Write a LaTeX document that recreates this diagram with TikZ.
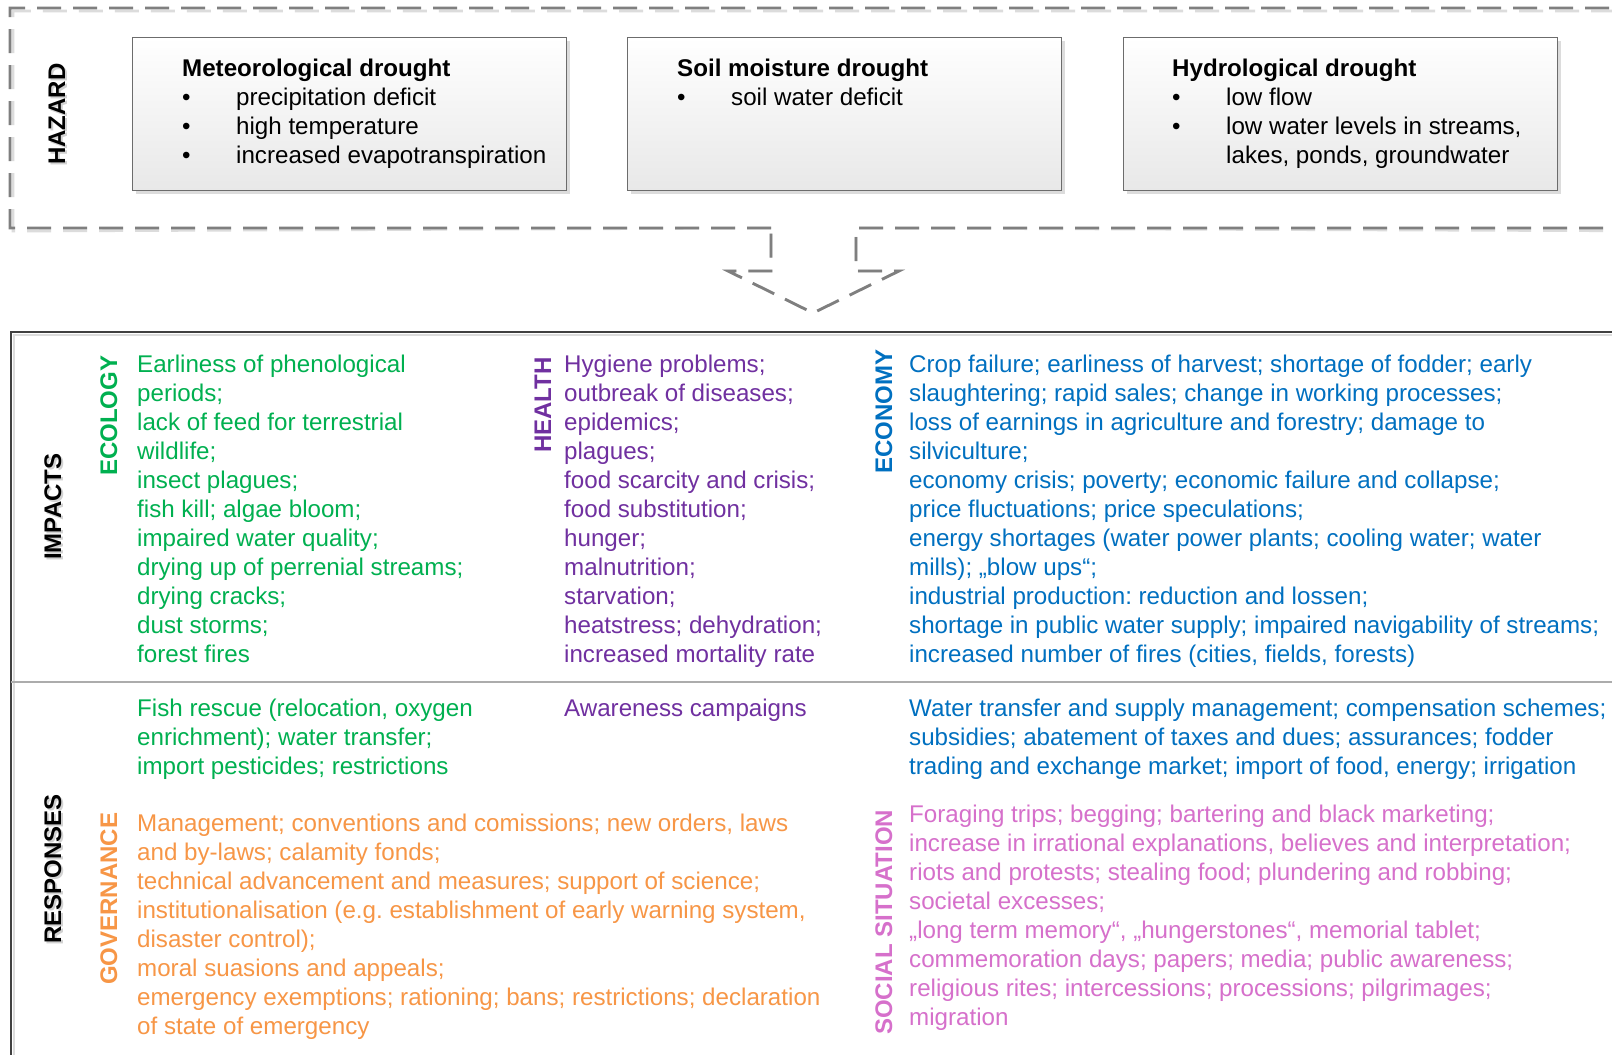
\documentclass[tikz,border=0pt]{standalone}
\usepackage{fontspec}
\newfontfamily\lsans{Liberation Sans}
\definecolor{eco}{HTML}{00B050}
\definecolor{hea}{HTML}{7030A0}
\definecolor{ecn}{HTML}{0070C0}
\definecolor{gov}{HTML}{F79646}
\definecolor{soc}{HTML}{D670CB}
\definecolor{dashgray}{HTML}{7F7F7F}
\definecolor{shadowgray}{HTML}{DCDCDC}
\definecolor{framegray}{HTML}{404040}
\newcommand\mylines[1]{\begin{tabular}[t]{@{}l@{}}#1\end{tabular}}
\newcommand\bullist[1]{\begin{tabular}[t]{@{}p{54pt}@{}l@{}}#1\end{tabular}}
\begin{document}
\frenchspacing
\begin{tikzpicture}[x=1pt,y=-1pt,
  txt/.style={anchor=base west, inner sep=0pt, font=\lsans\fontsize{24.15}{29}\selectfont},
  vlab/.style={rotate=90, anchor=base west, inner sep=0pt, font=\lsans\bfseries\fontsize{24}{29}\selectfont},
  blab/.style={vlab},
  hbox/.style={draw=gray!85!black, line width=1.2pt, top color=white, bottom color=gray!18,
    minimum width=434pt, minimum height=153pt, anchor=north west, inner sep=0pt},
  hshadow/.style={fill=shadowgray},
  dashline/.style={draw=dashgray, line width=2.8pt, dash pattern=on 24pt off 12pt},
  dashshadow/.style={draw=shadowgray, line width=2.8pt, dash pattern=on 24pt off 12pt}]
\useasboundingbox (0,0) rectangle (1612,1055);
\clip (0,0) rectangle (1612,1055);
\fill[white] (0,0) rectangle (1612,1055);

% ---------- hazard outline with arrow ----------
\coordinate (a1) at (771,228);
\coordinate (a2) at (771,271);
\coordinate (a3) at (728,271);
\coordinate (tip) at (813,313);
\coordinate (a5) at (899,271);
\coordinate (a6) at (856,271);
\coordinate (a7) at (856,228);
\draw[dashshadow, shift={(3,3)}] (a1) -- (10,228) -- (10,8) -- (1700,8) -- (1700,228) -- (a7) -- (a6) -- (a5) -- (tip) -- (a3) -- (a2) -- cycle;
\draw[dashline] (a1) -- (10,228) -- (10,8) -- (1700,8) -- (1700,228) -- (a7) -- (a6) -- (a5) -- (tip) -- (a3) -- (a2) -- cycle;

% ---------- hazard boxes ----------
\fill[hshadow] (136,41) rectangle (570,194);
\fill[hshadow] (631,41) rectangle (1065,194);
\fill[hshadow] (1127,41) rectangle (1561,194);
\node[hbox] (met) at (132,37) {};
\node[hbox] (soil) at (627,37) {};
\node[hbox] (hyd) at (1123,37) {};

\node[txt] (mett) at (182,76) {\bullist{\multicolumn{2}{@{}l@{}}{\bfseries Meteorological drought}\\
\textbullet & precipitation deficit\\
\textbullet & high temperature\\
\textbullet & increased evapotranspiration}};
\node[txt] (soilt) at (677,76) {\bullist{\multicolumn{2}{@{}l@{}}{\bfseries Soil moisture drought}\\
\textbullet & soil water deficit}};
\node[txt] (hydt) at (1172,76) {\bullist{\multicolumn{2}{@{}l@{}}{\bfseries Hydrological drought}\\
\textbullet & low flow\\
\textbullet & low water levels in streams,\\
 & lakes, ponds, groundwater}};

\node[blab, text=gray!35] (hazs) at (67,167) {HAZARD};
\node[blab] (haz) at (65,165) {HAZARD};

% ---------- impacts / responses frame ----------
\draw[shadowgray, line width=2.5pt] (13,335) -- (1700,335);
\draw[shadowgray, line width=2.5pt] (14,335) -- (14,1100);
\draw[framegray, line width=2.5pt] (11,1100) -- (11,332) -- (1700,332);
\draw[gray!65, line width=2.5pt] (11,682) -- (1700,682);

\node[blab, text=gray!35] (imps) at (63,562) {IMPACTS};
\node[blab] (imp) at (61,560) {IMPACTS};
\node[blab, text=gray!35] (ress) at (63,946) {RESPONSES};
\node[blab] (res) at (61,944) {RESPONSES};

% ---------- category labels ----------
\node[vlab, text=eco] (ecol) at (117,476) {ECOLOGY};
\node[vlab, text=hea] (heal) at (551,453) {HEALTH};
\node[vlab, text=ecn] (econ) at (892,474) {ECONOMY};
\node[vlab, text=gov] (govl) at (117,985) {GOVERNANCE};
\node[vlab, text=soc] (socl) at (892,1035) {SOCIAL SITUATION};

% ---------- impacts ----------
\node[txt, text=eco] (ecoi) at (137,372) {\mylines{Earliness of phenological\\
periods;\\
lack of feed for terrestrial\\
wildlife;\\
insect plagues;\\
fish kill; algae bloom;\\
impaired water quality;\\
drying up of perrenial streams;\\
drying cracks;\\
dust storms;\\
forest fires}};
\node[txt, text=hea] (heai) at (564,372) {\mylines{Hygiene problems;\\
outbreak of diseases;\\
epidemics;\\
plagues;\\
food scarcity and crisis;\\
food substitution;\\
hunger;\\
malnutrition;\\
starvation;\\
heatstress; dehydration;\\
increased mortality rate}};
\node[txt, text=ecn] (ecni) at (909,372) {\mylines{Crop failure; earliness of harvest; shortage of fodder; early\\
slaughtering; rapid sales; change in working processes;\\
loss of earnings in agriculture and forestry; damage to\\
silviculture;\\
economy crisis; poverty; economic failure and collapse;\\
price fluctuations; price speculations;\\
energy shortages (water power plants; cooling water; water\\
mills); „blow ups“;\\
industrial production: reduction and lossen;\\
shortage in public water supply; impaired navigability of streams;\\
increased number of fires (cities, fields, forests)}};

% ---------- responses ----------
\node[txt, text=eco] (ecor) at (137,716) {\mylines{Fish rescue (relocation, oxygen\\
enrichment); water transfer;\\
import pesticides; restrictions}};
\node[txt, text=hea] (hear) at (564,716) {\mylines{Awareness campaigns}};
\node[txt, text=ecn] (ecnr) at (909,716) {\mylines{Water transfer and supply management; compensation schemes;\\
subsidies; abatement of taxes and dues; assurances; fodder\\
trading and exchange market; import of food, energy; irrigation}};
\node[txt, text=gov] (govr) at (137,831) {\mylines{Management; conventions and comissions; new orders, laws\\
and by-laws; calamity fonds;\\
technical advancement and measures; support of science;\\
institutionalisation (e.g. establishment of early warning system,\\
disaster control);\\
moral suasions and appeals;\\
emergency exemptions; rationing; bans; restrictions; declaration\\
of state of emergency}};
\node[txt, text=soc] (socr) at (909,822) {\mylines{Foraging trips; begging; bartering and black marketing;\\
increase in irrational explanations, believes and interpretation;\\
riots and protests; stealing food; plundering and robbing;\\
societal excesses;\\
„long term memory“, „hungerstones“, memorial tablet;\\
commemoration days; papers; media; public awareness;\\
religious rites; intercessions; processions; pilgrimages;\\
migration}};
\end{tikzpicture}
\end{document}
